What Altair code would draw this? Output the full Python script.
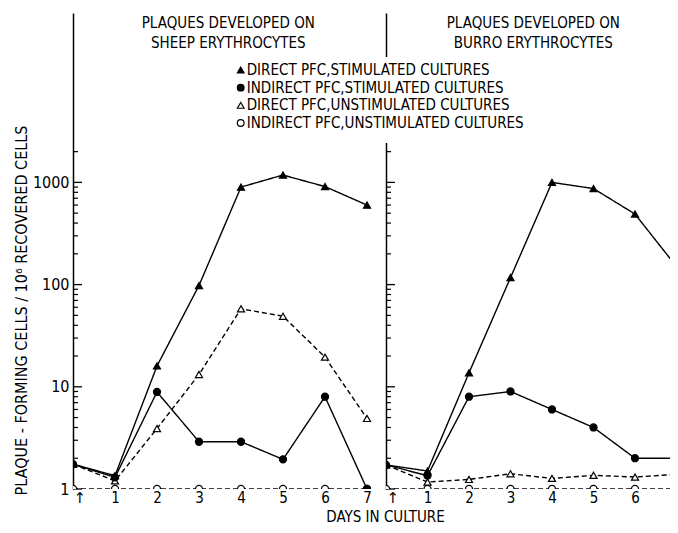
import altair as alt
import pandas as pd

# ---------------- data ----------------
days = [0, 1, 2, 3, 4, 5, 6, 7]
series_names = [
    "DIRECT PFC,STIMULATED CULTURES",
    "INDIRECT PFC,STIMULATED CULTURES",
    "DIRECT PFC,UNSTIMULATED CULTURES",
    "INDIRECT PFC,UNSTIMULATED CULTURES",
]
series_shapes = ["triangle-up", "circle", "triangle-up", "circle"]
series_fills = ["black", "black", "white", "white"]
series_dashes = [[1, 0], [1, 0], [5, 3], [5, 3]]
draw_rank = [4, 3, 2, 1]

sheep_direct_stim = [1.75, 1.35, 16, 98, 900, 1180, 910, 600]
sheep_indirect_stim = [1.75, 1.3, 8.9, 2.9, 2.9, 1.95, 8.0, 1.0]
sheep_direct_unstim = [1.75, 1.2, 3.9, 13.2, 58, 49, 19.5, 4.9]
sheep_indirect_unstim = [1, 1, 1, 1, 1, 1, 1, 1]

burro_direct_stim = [1.72, 1.5, 13.7, 117, 1000, 870, 490, 150]
burro_indirect_stim = [1.72, 1.35, 8.0, 9.0, 6.0, 4.0, 2.0, 2.0]
burro_direct_unstim = [1.72, 1.17, 1.24, 1.41, 1.27, 1.36, 1.31, 1.39]
burro_indirect_unstim = [1, 1, 1, 1, 1, 1, 1, 1]

panel_titles = ["PLAQUES DEVELOPED ON\nSHEEP ERYTHROCYTES",
                "PLAQUES DEVELOPED ON\nBURRO ERYTHROCYTES"]
x_title = "DAYS IN CULTURE"
y_title = "PLAQUE - FORMING CELLS / 10\u2076 RECOVERED CELLS"
y_label_values = [1, 10, 100, 1000]
y_minor_ticks = [2, 3, 4, 5, 6, 7, 8, 9,
                 20, 30, 40, 50, 60, 70, 80, 90,
                 200, 300, 400, 500, 600, 700, 800, 900,
                 2000]

FONT = "Liberation Sans Narrow, DejaVu Sans Condensed, Liberation Sans, sans-serif"
ARROW_FONT = "DejaVu Sans"


def build_df(cols):
    rows = []
    for name, vals in zip(series_names, cols):
        rank = draw_rank[series_names.index(name)]
        for d, v in zip(days, vals):
            rows.append({"series": name, "day": d, "value": v, "rank": rank})
    return pd.DataFrame(rows)


sheep_df = build_df([sheep_direct_stim, sheep_indirect_stim, sheep_direct_unstim, sheep_indirect_unstim])
burro_df = build_df([burro_direct_stim, burro_indirect_stim, burro_direct_unstim, burro_indirect_unstim])
major_df = pd.DataFrame({"v": y_label_values})
minor_df = pd.DataFrame({"v": y_minor_ticks})
legend_df = pd.DataFrame({"series": series_names})

# ---------------- layout ----------------
H = 476
DECADE = 102.2
YMAX = 10 ** (H / DECADE)
W1, X1MAX = 312, 312 / 42.0
W2, X2MAX = 284, 284 / 41.5

y_scale = alt.Scale(type="log", domain=[1, YMAX], nice=False)
shape_scale = alt.Scale(domain=series_names, range=series_shapes)
fill_scale = alt.Scale(domain=series_names, range=series_fills)


def panel(df, title, W, xmax, first):
    x_axis = alt.Axis(values=[d for d in days if d <= xmax], labelExpr="datum.value == 0 ? '\u2191' : datum.value",
                      domain=False, ticks=False,
                      labelFont={"condition": {"test": "datum.value == 0", "value": ARROW_FONT}, "value": FONT},
                      labelFontSize=15, labelPadding=1, labelColor="black", title=None, grid=False)
    x_enc = alt.X("day:Q", scale=alt.Scale(domain=[0, xmax], nice=False, zero=False), axis=x_axis)

    if first:
        y_axis = alt.Axis(orient="left", values=y_label_values, format="d", ticks=False, tickSize=0,
                          domain=True, domainColor="black", domainWidth=1.5, labelFont=FONT,
                          labelFontSize=16, labelColor="black", labelPadding=4, grid=False,
                          title=y_title, titleFont=FONT, titleFontSize=16, titleFontWeight="normal",
                          titleColor="black", titleAngle=270, titleBaseline="middle", titleAlign="center",
                          titleX=-51.5, titleY=297)
    else:
        y_axis = alt.Axis(orient="left", values=y_label_values, ticks=False, tickSize=0, domain=True,
                          domainColor="black", domainWidth=1.5, labels=False, grid=False, title=None)

    lines = alt.Chart(df).mark_line(color="black", strokeWidth=1.4, clip=True).encode(
        x=x_enc,
        y=alt.Y("value:Q", scale=y_scale, axis=y_axis),
        strokeDash=alt.StrokeDash("series:N", scale=alt.Scale(domain=series_names, range=series_dashes),
                                  legend=None),
        order=alt.Order("day:Q"),
    )
    points = alt.Chart(df).mark_point(stroke="black", strokeWidth=1.2, opacity=1, fillOpacity=1,
                                      size=50, clip=True).encode(
        x=x_enc,
        y=alt.Y("value:Q", scale=y_scale),
        shape=alt.Shape("series:N", scale=shape_scale, legend=None),
        fill=alt.Fill("series:N", scale=fill_scale, legend=None),
        order=alt.Order("rank:Q"),
    )
    major = alt.Chart(major_df).mark_rule(color="black", strokeWidth=1.3).encode(
        y=alt.Y("v:Q", scale=y_scale), x=alt.value(0), x2=alt.value(9))
    minor = alt.Chart(minor_df).mark_rule(color="black", strokeWidth=1.2).encode(
        y=alt.Y("v:Q", scale=y_scale), x=alt.value(0), x2=alt.value(5))
    cx = 155.3 if first else 147.3
    title_layer = alt.Chart(pd.DataFrame({"t": [title]})).mark_text(
        lineBreak="\n", font=FONT, fontSize=15, baseline="top", align="center", lineHeight=19.5,
        color="black").encode(text="t:N", x=alt.value(cx), y=alt.value(3))
    layers = [major, minor, lines, points, title_layer]
    if first:
        xt = alt.Chart(pd.DataFrame({"t": [x_title]})).mark_text(
            font=FONT, fontSize=15, baseline="middle", align="center", color="black").encode(
            text="t:N", x=alt.value(W + 0.5), y=alt.value(H + 28))
        layers.append(xt)
        return alt.layer(*layers).properties(width=W, height=H)

    # legend drawn (in the right panel, extending to the left)
    row_y = alt.Y("series:N", scale=alt.Scale(type="point", domain=series_names, range=[57, 110], padding=0),
                  axis=None)
    mask = alt.Chart(legend_df).mark_rect(color="white").encode(
        x=alt.value(-6), x2=alt.value(6), y=alt.value(44), y2=alt.value(130))
    leg_pts = alt.Chart(legend_df).mark_point(stroke="black", strokeWidth=1.2, size=45, opacity=1,
                                              fillOpacity=1).encode(
        x=alt.value(-145.3), y=row_y,
        shape=alt.Shape("series:N", scale=shape_scale, legend=None),
        fill=alt.Fill("series:N", scale=fill_scale, legend=None),
    )
    leg_txt = alt.Chart(legend_df).mark_text(font=FONT, fontSize=15, align="left", baseline="middle",
                                             color="black").encode(
        x=alt.value(-139.3), y=row_y, text="series:N")
    return alt.layer(alt.layer(*layers), alt.layer(mask, leg_pts, leg_txt)).resolve_scale(
        y="independent").properties(width=W, height=H)


left = panel(sheep_df, panel_titles[0], W1, X1MAX, True)
right = panel(burro_df, panel_titles[1], W2, X2MAX, False)

chart = alt.hconcat(left, right, spacing=1, bounds="flush").configure_view(stroke=None).properties(
    padding={"left": 5, "top": 5, "right": 0, "bottom": 0}
)

chart.save("out.html", embed_options={"renderer": "svg", "actions": False})
